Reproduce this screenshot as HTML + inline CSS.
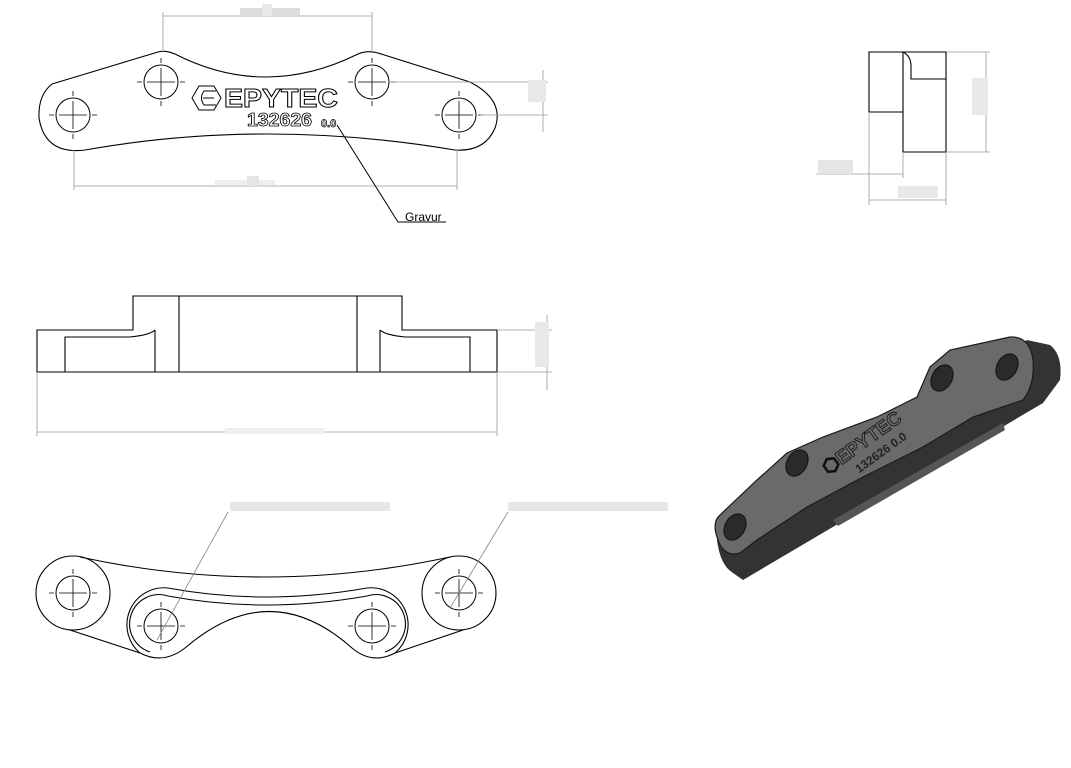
<!DOCTYPE html>
<html><head><meta charset="utf-8"><style>
html,body{margin:0;padding:0;background:#fff;}
svg{display:block;}
text{font-family:"Liberation Sans",sans-serif;}
</style></head><body>
<svg width="1071" height="768" viewBox="0 0 1071 768" xmlns="http://www.w3.org/2000/svg">
<defs>
<g id="hole"><circle r="17" fill="none" stroke="#000" stroke-width="1"/><path d="M-24 0H-19M-14 0H14M19 0H24M0 -24V-19M0 -14V14M0 19V24" stroke="#000" stroke-width="0.8"/></g>
</defs>
<g fill="none" stroke="#000" stroke-width="1.1">
<path d="M52 84 L158 52 Q165 50 175 54 Q265 100 358 54 Q368 50 378 53 L470 82 Q505 100 495 128 Q485 152 455 150 Q265 118 85 150 Q45 155 39 118 Q38 95 52 84 Z"/>
</g>
<use href="#hole" x="73" y="115"/><use href="#hole" x="161" y="82"/><use href="#hole" x="372" y="82"/><use href="#hole" x="459" y="115"/>
<g fill="none" stroke="#000" stroke-width="1">
<polygon points="192,98 199,86 214,86 221,98 214,110 199,110"/>
<path d="M216 91H204Q199 98 204 105H216M203 98H214"/>
</g>
<text x="224" y="107" font-size="26" font-weight="bold" fill="#fff" stroke="#000" stroke-width="1" textLength="114" lengthAdjust="spacingAndGlyphs">EPYTEC</text>
<text x="247" y="126" font-size="18" font-weight="bold" fill="#fff" stroke="#000" stroke-width="0.8" textLength="65" lengthAdjust="spacingAndGlyphs">132626</text>
<text x="321" y="127" font-size="11" font-weight="bold" fill="#fff" stroke="#000" stroke-width="0.7">0.0</text>
<g stroke="#999" stroke-width="0.8" fill="none">
<path d="M163 16H372M163 12V52M372 12V52M74 186H457M74 150V190M457 150V190M390 82H548M480 115H548M543 70V132"/>
</g>
<rect x="240" y="8" width="60" height="7" fill="#ddd"/><rect x="262" y="4" width="10" height="12" fill="#e8e8e8"/>
<rect x="215" y="180" width="60" height="5" fill="#eee"/><rect x="247" y="176" width="12" height="10" fill="#e5e5e5"/>
<rect x="528" y="80" width="18" height="22" fill="#e8e8e8"/>
<path d="M337 125L398 222H446" stroke="#000" stroke-width="1" fill="none"/>
<text x="405" y="221" font-size="12" fill="#000">Gravur</text>
<!-- side view -->
<g fill="none" stroke="#000" stroke-width="1.1">
<path d="M869 52H946V152H903V112H869Z"/><path d="M903 52V112M903 52Q911 56 911 66V79H946"/>
</g>
<g stroke="#999" stroke-width="0.8" fill="none">
<path d="M946 52H990M946 152H990M986 52V152M869 112V205M946 152V205M869 200H946M903 152V178M816 174H903"/>
</g>
<rect x="972" y="78" width="16" height="37" fill="#e8e8e8"/>
<rect x="818" y="160" width="35" height="14" fill="#e5e5e5"/>
<rect x="898" y="186" width="40" height="12" fill="#e8e8e8"/>
<!-- front view -->
<g fill="none" stroke="#000" stroke-width="1.1">
<path d="M37 330H133V296H402V330H497V372H37Z"/>
<path d="M179 296V372M357 296V372M65 372V337H130Q150 335 155 330M470 372V337H405Q385 335 380 330M155 330V372M380 330V372"/>
</g>
<g stroke="#999" stroke-width="0.8" fill="none">
<path d="M497 330H552M497 372H552M547 315V390M37 372V436M497 372V436M37 432H497"/>
</g>
<rect x="535" y="322" width="14" height="45" fill="#e8e8e8"/>
<rect x="225" y="428" width="100" height="6" fill="#eee"/>
<!-- bottom view -->
<g fill="none" stroke="#000" stroke-width="1.1">
<circle cx="73" cy="593" r="37"/><circle cx="459" cy="593" r="37"/>
<path d="M80 557 Q265 597 450 557"/>
<path d="M70 630 L140 653 Q163 665 185 648 Q270 575 352 648 Q372 665 395 653 L463 630"/>
<path d="M168 588 Q265 606 367 588 M168 596 Q265 614 367 596"/>
<path d="M168 588 A37 37 0 0 0 140 653 M367 588 A37 37 0 0 1 395 653"/>
<path d="M168 596 A29 29 0 0 0 150 652 M367 596 A29 29 0 0 1 385 652"/>
</g>
<use href="#hole" x="73" y="593"/><use href="#hole" x="161" y="626"/><use href="#hole" x="372" y="626"/><use href="#hole" x="459" y="593"/>
<g stroke="#888" stroke-width="0.8" fill="none"><path d="M157 640L228 512M450 608L508 512"/></g>
<rect x="230" y="502" width="160" height="9" fill="#e6e6e6"/>
<rect x="508" y="502" width="160" height="9" fill="#e6e6e6"/>
<!-- 3D view -->
<path d="M1027 340 L1050 345 Q1063 355 1060 380 L1043 403 L743 580 L733 573 Q720 565 717 540 Z" fill="#333"/>
<path d="M833 520 L1003 423 L1005 430 L838 526 Z" fill="#555"/>
<path d="M717 537 Q712 522 720 515 L757 480 L787 453 L823 437 L877 417 L917 397 L930 367 L950 350 L1010 337 Q1030 336 1033 360 Q1035 385 1023 400 L973 417 L923 447 L863 477 L807 507 L757 540 L740 553 Q723 558 717 537 Z" fill="#6a6a6a" stroke="#1a1a1a" stroke-width="1.2"/>
<g fill="#2a2a2a" stroke="#111"><ellipse cx="735" cy="527" rx="10" ry="14" transform="rotate(30 735 527)"/><ellipse cx="797" cy="463" rx="10" ry="14" transform="rotate(30 797 463)"/><ellipse cx="942" cy="378" rx="10" ry="14" transform="rotate(30 942 378)"/><ellipse cx="1007" cy="367" rx="10" ry="14" transform="rotate(30 1007 367)"/></g>
<g transform="translate(828 475) rotate(-36)"><text x="0" y="0" font-size="19" font-weight="bold" fill="#6a6a6a" stroke="#111" stroke-width="0.8">⬡EPYTEC</text><text x="26" y="17" font-size="12" font-weight="bold" fill="#222">132626 0.0</text></g>
</svg>
</body></html>
